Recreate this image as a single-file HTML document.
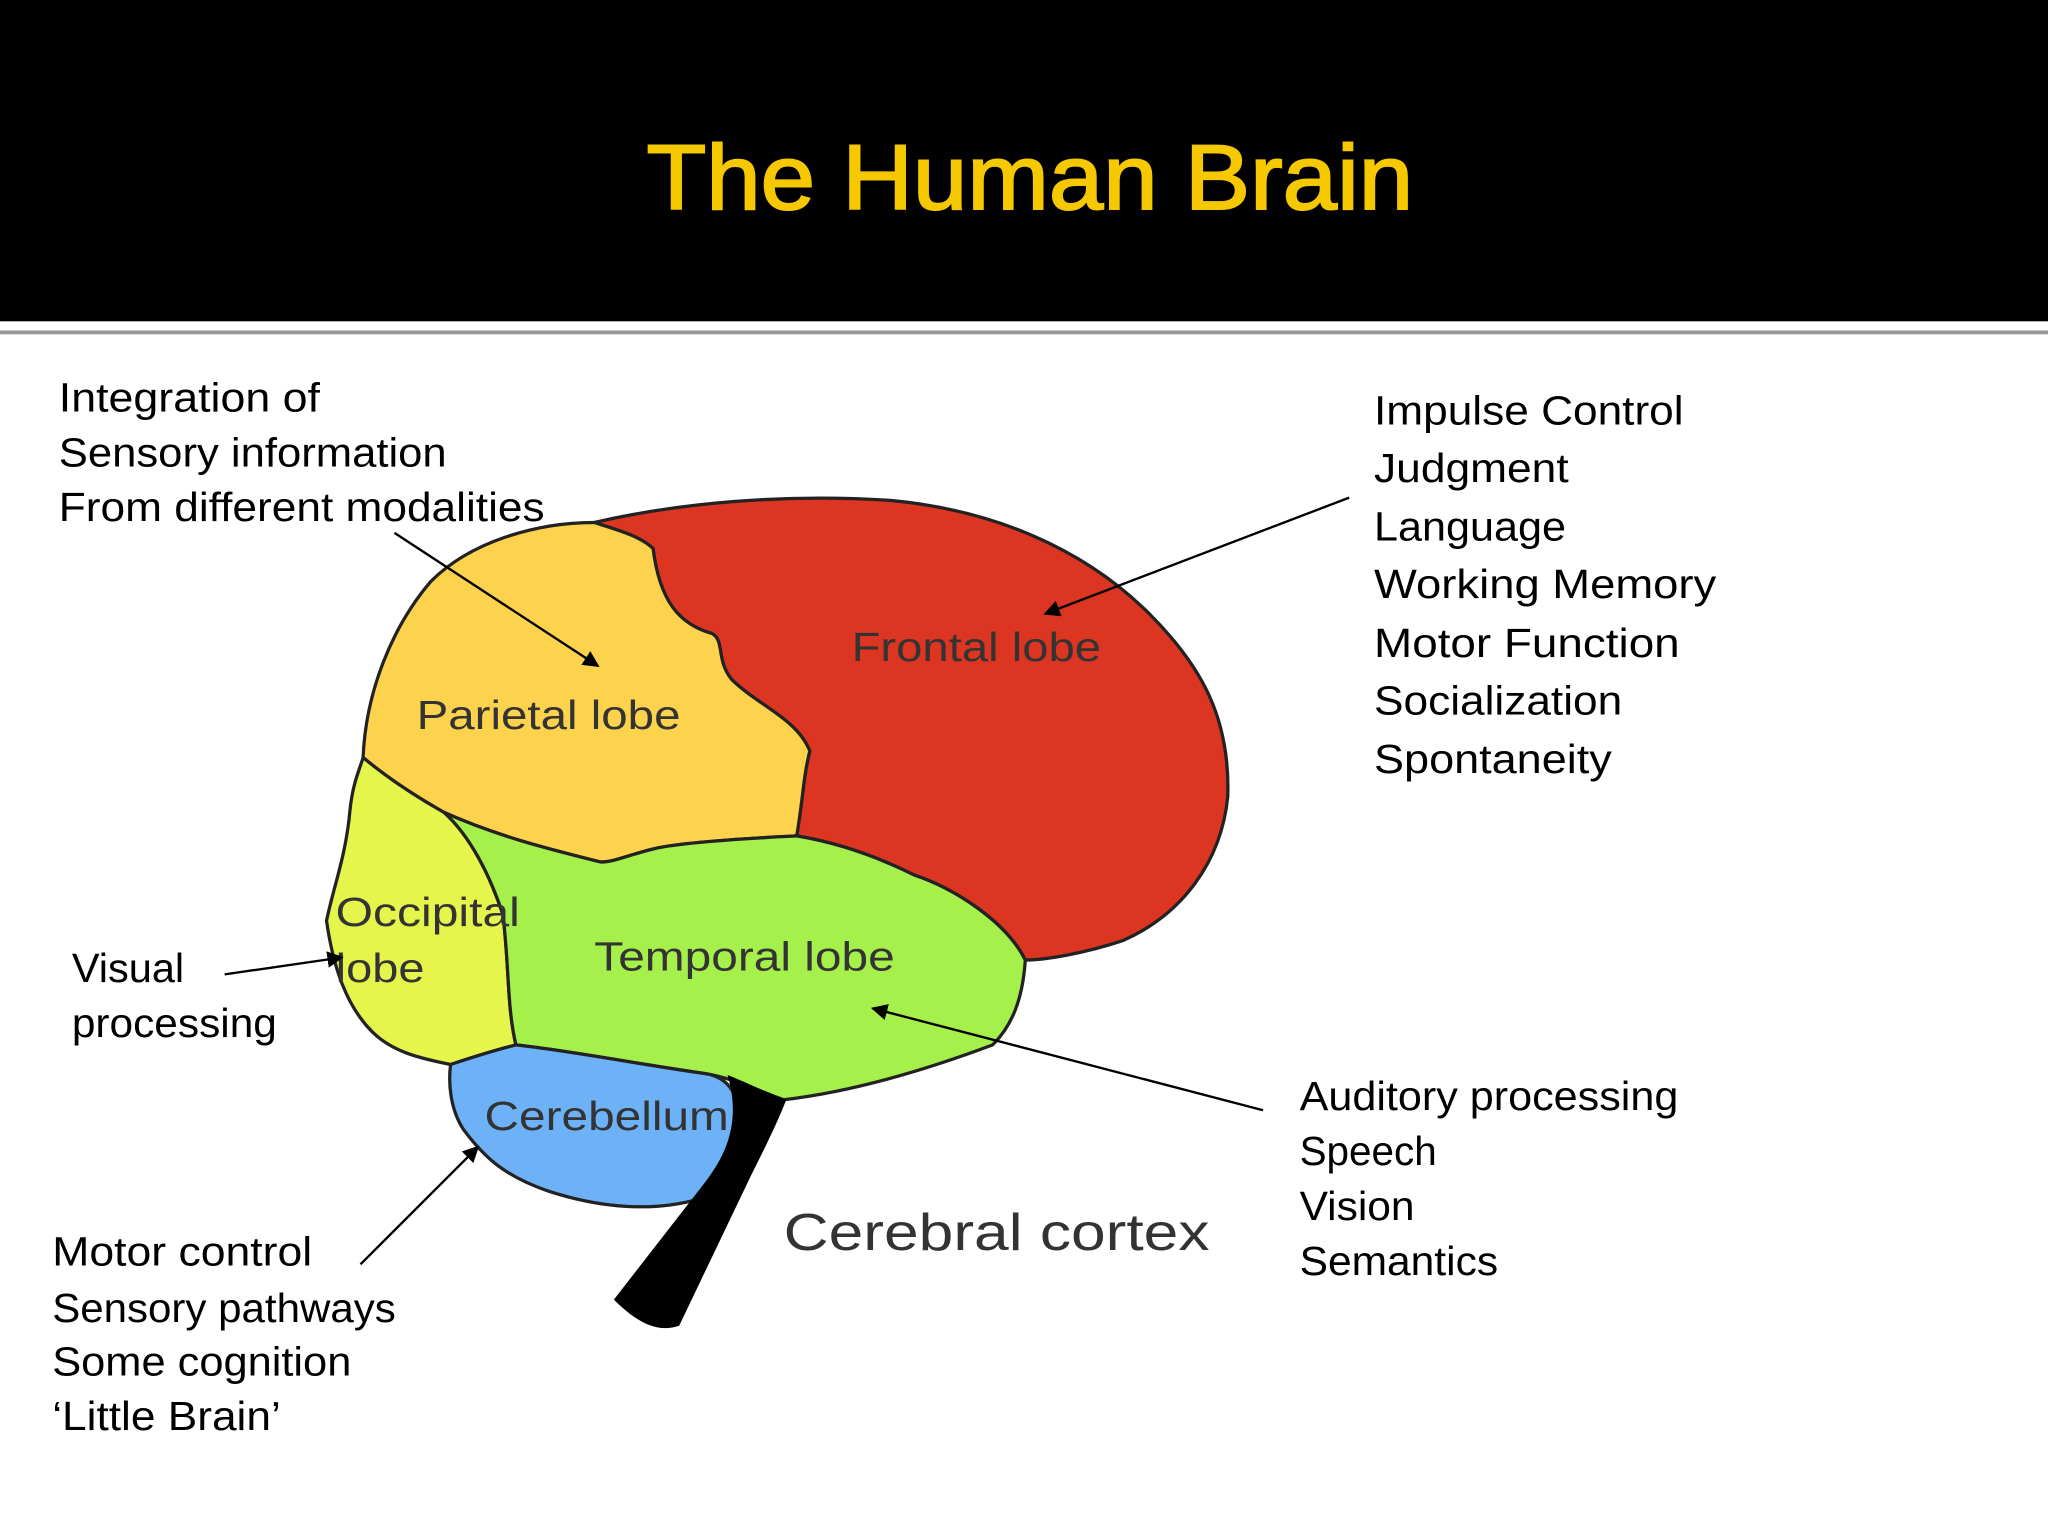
<!DOCTYPE html>
<html><head><meta charset="utf-8"><style>
html,body{margin:0;padding:0;background:#fff;}
svg{display:block;}
text{font-family:"Liberation Sans",sans-serif;}
</style></head><body>
<svg width="2048" height="1536" viewBox="0 0 1568 1176" xmlns="http://www.w3.org/2000/svg">
<defs>
<marker id="ah" viewBox="0 0 10 10" refX="9" refY="5" markerWidth="7" markerHeight="7" orient="auto"><path d="M0,0 L10,5 L0,10 z" fill="#000"/></marker>
</defs>
<rect x="0" y="0" width="1568" height="246" fill="#000"/>
<rect x="0" y="253" width="1568" height="3" fill="#999"/>
<text x="495" y="160" font-size="70" fill="#f5c800" stroke="#f5c800" stroke-width="1.5" textLength="587" lengthAdjust="spacingAndGlyphs">The Human Brain</text>

<g stroke="#222" stroke-width="2.5" stroke-linejoin="round">
<path fill="#dc3522" d="M455,400 C520,385 600,378 680,383 C760,390 830,420 880,470 C920,510 942,550 940,610 C935,660 905,700 860,720 C830,730 800,735 785,735 C770,705 730,680 700,670 C670,655 640,645 610,640 C615,610 615,595 620,575 C610,550 580,540 560,520 C548,505 555,490 545,485 C520,478 505,460 500,420 C490,410 470,405 455,400 Z"/>
<path fill="#fdd24c" d="M455,400 C470,405 490,410 500,420 C505,460 520,478 545,485 C555,490 548,505 560,520 C580,540 610,550 620,575 C615,595 615,610 610,640 C570,642 520,645 500,650 C480,655 470,660 460,660 C420,650 380,640 340,622 C310,605 290,590 278,580 C280,530 300,480 330,445 C360,415 410,400 455,400 Z"/>
<path fill="#e6f54c" d="M278,580 C290,590 310,605 340,622 C360,640 375,670 385,700 C390,740 388,770 395,800 C375,805 360,810 345,815 C320,810 300,805 285,790 C265,770 255,740 250,705 C255,680 265,655 268,620 C270,600 275,590 278,580 Z"/>
<path fill="#a6f04c" d="M340,622 C380,640 420,650 460,660 C470,660 480,655 500,650 C520,645 570,642 610,640 C640,645 670,655 700,670 C730,680 770,705 785,735 C783,765 775,785 760,800 C720,815 660,835 600,842 C580,835 560,825 540,822 C490,815 440,805 395,800 C388,770 390,740 385,700 C375,670 360,640 340,622 Z"/>
<path fill="#6db1f7" d="M345,815 C360,810 375,805 395,800 C440,805 490,815 540,822 C560,825 565,840 568,860 C565,885 555,905 535,918 C500,928 460,925 420,912 C385,900 370,885 355,865 C345,850 343,830 345,815 Z"/>
</g>
<path fill="#000" d="M557,823 C575,830 590,838 602,842 C595,860 585,880 575,900 L520,1015 C505,1020 490,1015 470,995 L540,905 C555,885 568,860 557,823 Z"/>

<g font-size="31" fill="#333">
<text x="652" y="506" textLength="191" lengthAdjust="spacingAndGlyphs">Frontal lobe</text>
<text x="319" y="558" textLength="202" lengthAdjust="spacingAndGlyphs">Parietal lobe</text>
<text x="257" y="709" textLength="141" lengthAdjust="spacingAndGlyphs">Occipital</text>
<text x="257" y="752" textLength="68" lengthAdjust="spacingAndGlyphs">lobe</text>
<text x="455" y="743" textLength="230" lengthAdjust="spacingAndGlyphs">Temporal lobe</text>
<text x="371" y="865" textLength="187" lengthAdjust="spacingAndGlyphs">Cerebellum</text>
</g>
<text x="600" y="957" font-size="40" fill="#333" textLength="326" lengthAdjust="spacingAndGlyphs">Cerebral cortex</text>

<g font-size="31" fill="#000">
<text x="45" y="315" textLength="200" lengthAdjust="spacingAndGlyphs">Integration of</text>
<text x="45" y="357" textLength="297" lengthAdjust="spacingAndGlyphs">Sensory information</text>
<text x="45" y="399" textLength="372" lengthAdjust="spacingAndGlyphs">From different modalities</text>
<text x="1052" y="325" textLength="237" lengthAdjust="spacingAndGlyphs">Impulse Control</text>
<text x="1052" y="369" textLength="149" lengthAdjust="spacingAndGlyphs">Judgment</text>
<text x="1052" y="414" textLength="147" lengthAdjust="spacingAndGlyphs">Language</text>
<text x="1052" y="458" textLength="262" lengthAdjust="spacingAndGlyphs">Working Memory</text>
<text x="1052" y="503" textLength="234" lengthAdjust="spacingAndGlyphs">Motor Function</text>
<text x="1052" y="547" textLength="190" lengthAdjust="spacingAndGlyphs">Socialization</text>
<text x="1052" y="592" textLength="182" lengthAdjust="spacingAndGlyphs">Spontaneity</text>
<text x="55" y="752" textLength="86" lengthAdjust="spacingAndGlyphs">Visual</text>
<text x="55" y="794" textLength="157" lengthAdjust="spacingAndGlyphs">processing</text>
<text x="995" y="850" textLength="290" lengthAdjust="spacingAndGlyphs">Auditory processing</text>
<text x="995" y="892" textLength="105" lengthAdjust="spacingAndGlyphs">Speech</text>
<text x="995" y="934" textLength="88" lengthAdjust="spacingAndGlyphs">Vision</text>
<text x="995" y="976" textLength="152" lengthAdjust="spacingAndGlyphs">Semantics</text>
<text x="40" y="969" textLength="199" lengthAdjust="spacingAndGlyphs">Motor control</text>
<text x="40" y="1012" textLength="263" lengthAdjust="spacingAndGlyphs">Sensory pathways</text>
<text x="40" y="1053" textLength="229" lengthAdjust="spacingAndGlyphs">Some cognition</text>
<text x="40" y="1095" textLength="175" lengthAdjust="spacingAndGlyphs">‘Little Brain’</text>
</g>

<g stroke="#000" stroke-width="1.8" fill="none" marker-end="url(#ah)">
<line x1="302" y1="408" x2="458" y2="510"/>
<line x1="1033" y1="381" x2="800" y2="470"/>
<line x1="172" y1="746" x2="262" y2="733"/>
<line x1="967" y1="850" x2="668" y2="772"/>
<line x1="276" y1="968" x2="366" y2="878"/>
</g>
</svg>
</body></html>
